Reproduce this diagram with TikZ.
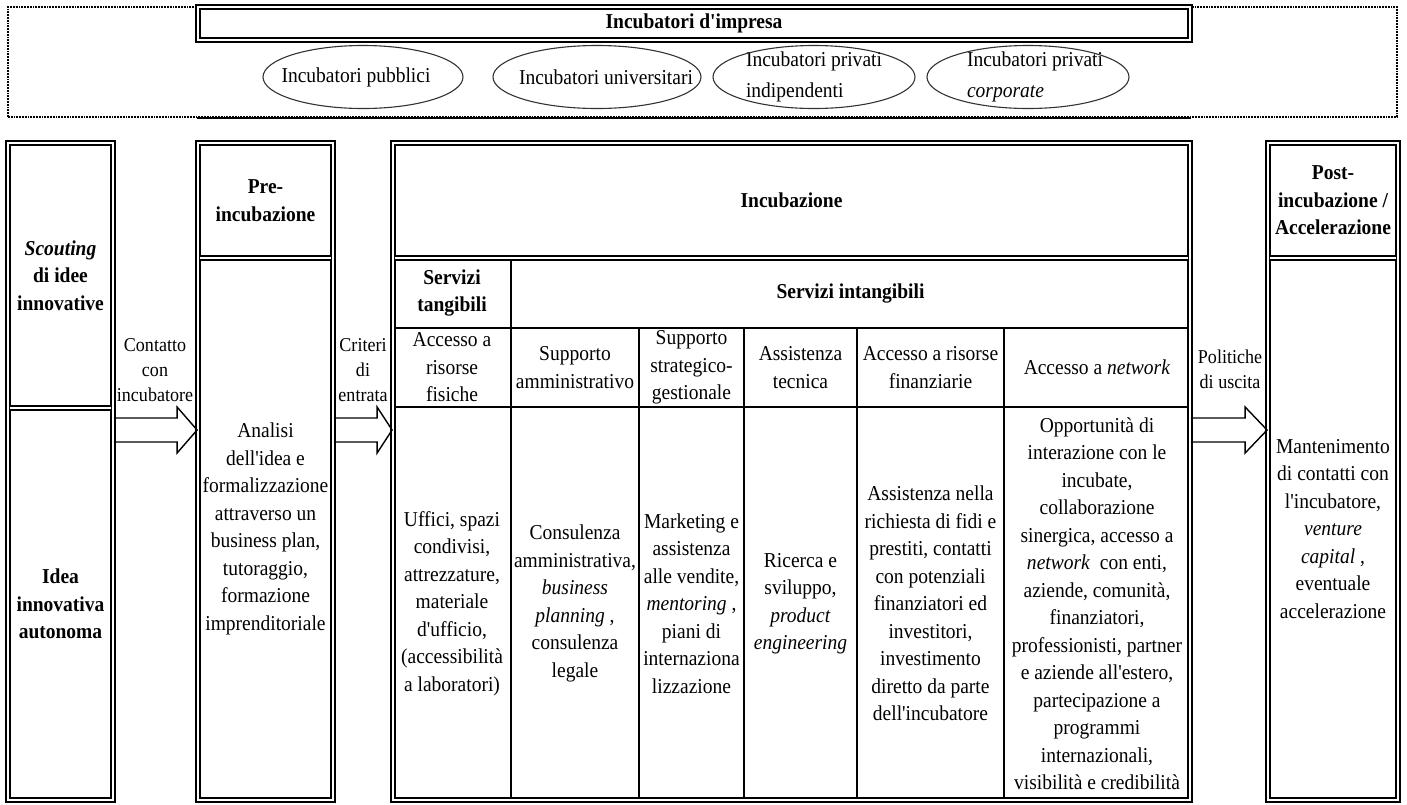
\documentclass[tikz,border=0pt]{standalone}
\usepackage{fontspec}
\setmainfont{Liberation Serif}[FakeStretch=0.92,Ligatures=TeXOff]
\usetikzlibrary{calc}
\newcommand\cellfont{\fontsize{21.2}{27.5}\selectfont}
\newcommand\labfont{\fontsize{19.6}{25}\selectfont}
\newcommand\ovalfont{\fontsize{21.2}{31}\selectfont}
\newcommand\blockarr[3]{\draw[line width=1.4pt,line join=miter] let \p1=(#1), \p2=(#2) in (\x1,\y1+12pt) -- (\x2-#3,\y1+12pt) -- (\x2-#3,\y1+23pt) -- (\x2,\y1) -- (\x2-#3,\y1-23pt) -- (\x2-#3,\y1-12pt) -- (\x1,\y1-12pt);}
\begin{document}
\begin{tikzpicture}[x=1pt,y=-1pt,every node/.style={font=\cellfont,align=center,inner sep=0pt},
dbl/.style={draw,double,double distance=2pt,line width=1.8pt},
cell/.style={draw,line width=1.3pt},
oval/.style={draw=black!80,line width=1.1pt},
frame/.style={draw,line width=1.8pt,densely dotted},
divider/.style={dbl,shorten <=2.8pt,shorten >=2.8pt},
head/.style={font=\cellfont\bfseries},
lab/.style={font=\labfont}]
\useasboundingbox (0,0) rectangle (1407,804);
\node[frame,minimum width=1389,minimum height=110] (top) at (702.5,62) {};
\node[dbl,head,minimum width=992,minimum height=33] (imp) at (694,23.5) {Incubatori d'impresa};
\draw[line width=1.8pt] (imp.west |- top.south) -- (imp.east |- top.south);
\node[font=\ovalfont] (pub) at (356,77) {Incubatori pubblici};
\node[font=\ovalfont] (uni) at (606,77) {Incubatori universitari};
\node[font=\ovalfont,align=left] (ind) at (814,77) {Incubatori privati\\indipendenti};
\node[font=\ovalfont,align=left] (cor) at (1035,77) {Incubatori privati\\\textit{corporate}};
\draw[oval] ([xshift=7pt]pub.center) ellipse [x radius=100pt,y radius=31.5pt];
\draw[oval] ([xshift=-9pt]uni.center) ellipse [x radius=104pt,y radius=31.5pt];
\draw[oval] (ind.center) ellipse [x radius=101pt,y radius=31.5pt];
\draw[oval] ([xshift=-7pt]cor.center) ellipse [x radius=101pt,y radius=31.5pt];
\node[cell,head,minimum width=118,minimum height=70] (tan) at (452,293) {Servizi\\tangibili};
\node[cell,head,minimum width=679,minimum height=70] (int) at (850.5,293) {Servizi intangibili};
\foreach \i/\cx/\w/\t in {1/452/118/{Accesso a\\risorse\\fisiche},2/575/128/{Supporto\\amministrativo},3/691.5/105/{Supporto\\strategico-\\gestionale},4/800.5/113/{Assistenza\\tecnica},5/930.5/147/{Accesso a risorse\\finanziarie},6/1097/186/{Accesso a \textit{network}}}
  \node[cell,minimum width=\w,minimum height=79] (h\i) at (\cx,367.5) {\t};
\foreach \i/\cx/\w/\t in {1/452/118/{Uffici, spazi\\condivisi,\\attrezzature,\\materiale\\d'ufficio,\\(accessibilità\\a laboratori)},2/575/128/{Consulenza\\amministrativa,\\\textit{business}\\\textit{planning} ,\\consulenza\\legale},3/691.5/105/{Marketing e\\assistenza\\alle vendite,\\\textit{mentoring} ,\\piani di\\internaziona\\lizzazione},4/800.5/113/{Ricerca e\\sviluppo,\\\textit{product}\\\textit{engineering}},5/930.5/147/{Assistenza nella\\richiesta di fidi e\\prestiti, contatti\\con potenziali\\finanziatori ed\\investitori,\\investimento\\diretto da parte\\dell'incubatore},6/1097/186/{Opportunità di\\interazione con le\\incubate,\\collaborazione\\sinergica, accesso a\\\textit{network}~ con enti,\\aziende, comunità,\\finanziatori,\\professionisti, partner\\e aziende all'estero,\\partecipazione a\\programmi\\internazionali,\\visibilità e credibilità}}
  \node[cell,minimum width=\w,minimum height=393] (b\i) at (\cx,603.5) {\t};
\node[dbl,minimum width=105,minimum height=657] (colA) at (60.5,471.5) {};
\node[dbl,minimum width=135,minimum height=657] (colB) at (265.5,471.5) {};
\node[dbl,minimum width=797,minimum height=657] (colC) at (791.5,471.5) {};
\node[dbl,minimum width=130,minimum height=657] (colD) at (1333,471.5) {};
\coordinate (ra) at (0,408); \coordinate (rb) at (0,258);
\draw[divider] (colA.west |- ra) -- (colA.east |- ra);
\foreach \c in {colB,colC,colD} \draw[divider] (\c.west |- rb) -- (\c.east |- rb);
\node[head] (scout) at (60.5,275.5) {\textit{Scouting}\\di idee\\innovative};
\node[head] (idea) at (60.5,604) {Idea\\innovativa\\autonoma};
\node[head] (preh) at (265.5,200.5) {Pre-\\incubazione};
\node (pre) at (265.5,529) {Analisi\\dell'idea e\\formalizzazione\\attraverso un\\business plan,\\tutoraggio,\\formazione\\imprenditoriale};
\node[head] (inch) at (791.5,200.5) {Incubazione};
\node[head] (posth) at (1333,200.5) {Post-\\incubazione /\\Accelerazione};
\node (post) at (1333,529) {Mantenimento\\di contatti con\\l'incubatore,\\\textit{venture}\\\textit{capital} ,\\eventuale\\accelerazione};
\coordinate (ay) at (0,430);
\blockarr{colA.east |- ay}{colB.west |- ay}{20pt}
\blockarr{colB.east |- ay}{colC.west |- ay}{15pt}
\blockarr{colC.east |- ay}{colD.west |- ay}{22pt}
\node[lab] (con) at (155,370) {Contatto\\con\\incubatore};
\node[lab] (cri) at (363,370) {Criteri\\di\\entrata};
\node[lab] (pol) at (1230,369) {Politiche\\di uscita};
\end{tikzpicture}
\end{document}
